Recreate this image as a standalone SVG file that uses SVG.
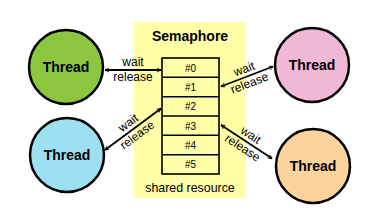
<svg xmlns="http://www.w3.org/2000/svg" width="370" height="217" viewBox="0 0 370 217">
<defs>
<marker id="ah" viewBox="0 0 10 10" refX="9" refY="5" markerWidth="5" markerHeight="5" orient="auto-start-reverse" markerUnits="userSpaceOnUse">
<path d="M1,1 L9,5 L1,9" fill="none" stroke="#000" stroke-width="1.6"/>
</marker>
</defs>
<style>
.th{stroke:#000;stroke-width:2.5}
.tl{font-family:"Liberation Sans",Arial,sans-serif;font-weight:bold;font-size:14px;text-anchor:middle;fill:#000}
.lb{font-family:"Liberation Sans",Arial,sans-serif;font-size:12px;text-anchor:middle;fill:#000}
.cell{fill:none;stroke:#000;stroke-width:1.6}
.ct{font-family:"Liberation Sans",Arial,sans-serif;font-size:10px;text-anchor:middle;fill:#000}
.cn{stroke:#000;stroke-width:1.8;fill:none;marker-start:url(#ah);marker-end:url(#ah)}
</style>
<rect width="370" height="217" fill="#fff"/>
<g id="semaphore">
<rect x="134" y="22" width="112" height="176" fill="#ffffa8"/>
<text x="190" y="41" class="tl">Semaphore</text>
<rect x="162" y="58" width="57" height="116" class="cell"/>
<path d="M162,77.3H219M162,96.7H219M162,116H219M162,135.3H219M162,154.7H219" class="cell"/>
<text x="190.5" y="71.5" class="ct">#0</text>
<text x="190.5" y="90.8" class="ct">#1</text>
<text x="190.5" y="110.2" class="ct">#2</text>
<text x="190.5" y="129.5" class="ct">#3</text>
<text x="190.5" y="148.8" class="ct">#4</text>
<text x="190.5" y="168.2" class="ct">#5</text>
<text x="190" y="192" class="lb" style="font-size:12.4px">shared resource</text>
</g>
<g id="thread-green">
<circle cx="66" cy="67" r="37" fill="#8cc63f" class="th"/>
<text x="66" y="72" class="tl">Thread</text>
</g>
<g id="thread-pink">
<circle cx="312" cy="65" r="37" fill="#f1b8d6" class="th"/>
<text x="312" y="70" class="tl">Thread</text>
</g>
<g id="thread-blue">
<circle cx="67" cy="155" r="37" fill="#9de0f1" class="th"/>
<text x="67" y="160" class="tl">Thread</text>
</g>
<g id="thread-orange">
<circle cx="313" cy="166" r="37" fill="#fcd29d" class="th"/>
<text x="313" y="171" class="tl">Thread</text>
</g>
<g id="connectors">
<line x1="105" y1="70" x2="161" y2="70" class="cn"/>
<text x="133" y="66" class="lb">wait</text>
<text x="133" y="81" class="lb">release</text>
<line x1="221" y1="86.5" x2="273" y2="66.5" class="cn"/>
<g transform="translate(247,76.5) rotate(-21)">
<text x="0" y="-4" class="lb">wait</text>
<text x="0" y="11" class="lb">release</text>
</g>
<line x1="105" y1="150" x2="161" y2="108.5" class="cn"/>
<g transform="translate(133,129.3) rotate(-36.5)">
<text x="0" y="-4" class="lb">wait</text>
<text x="0" y="11" class="lb">release</text>
</g>
<line x1="221" y1="125" x2="272" y2="158.5" class="cn"/>
<g transform="translate(246.5,141.8) rotate(33.3)">
<text x="0" y="-4" class="lb">wait</text>
<text x="0" y="11" class="lb">release</text>
</g>
</g>
</svg>
